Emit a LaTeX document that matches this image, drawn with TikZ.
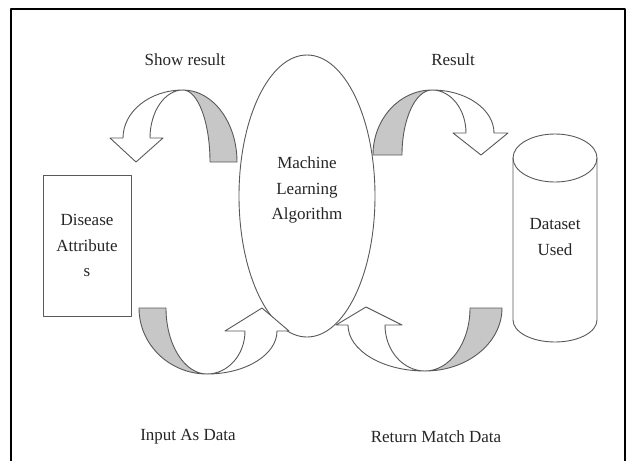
\documentclass[tikz,border=0pt]{standalone}
\usepackage{fontspec}
\setmainfont{Liberation Serif}
\usetikzlibrary{shapes.geometric}
\begin{document}
\begin{tikzpicture}[x=1pt,y=-1pt,line join=round]
\tikzset{
  shp/.style={draw=black!65,line width=0.9pt},
  band/.style={shp,fill=black!22},
  wht/.style={shp,fill=white},
  lbl/.style={font=\fontsize{17}{25.5}\selectfont,text=black!85,inner sep=0pt,align=center},
}
\useasboundingbox (0,0) rectangle (630,461);
\fill[white] (0,0) rectangle (630,461);
\draw[line width=2pt] (11,461) -- (11,9) -- (625,9) -- (625,461);

% main shapes
\node[shp,rectangle,minimum width=88pt,minimum height=141pt,inner sep=0pt,lbl] (attr) at (87,245.5) {Disease\\Attribute\\s};
\node[shp,ellipse,minimum width=136pt,minimum height=282pt,inner sep=0pt] (ml) at (307,196) {};
\node[lbl] (mltext) at (307,190) {Machine\\Learning\\Algorithm};

% cylinder
\draw[shp] (513,158) -- (513,320) arc[start angle=180,end angle=0,x radius=42,y radius=22] -- (597,158);
\draw[shp] (555,158) ellipse [x radius=42,y radius=24];
\node[lbl] (ds) at (555,237) {Dataset\\Used};

% top-left arrow (Show result)
\draw[band] (210,162) arc[start angle=0,end angle=-90,x radius=27,y radius=72]
  arc[start angle=-90,end angle=0,x radius=54,y radius=72] -- cycle;
\draw[wht] (150,138) arc[start angle=180,end angle=270,x radius=33,y radius=48]
  arc[start angle=270,end angle=180,x radius=60,y radius=48]
  -- (110,138) -- (136,162) -- (163,138) -- cycle;

% top-right arrow (Result)
\draw[band] (402,155) arc[start angle=180,end angle=270,x radius=30,y radius=65]
  arc[start angle=270,end angle=180,x radius=59,y radius=65] -- cycle;
\draw[wht] (466,133) arc[start angle=0,end angle=-90,x radius=34,y radius=43]
  arc[start angle=-90,end angle=0,x radius=62,y radius=43]
  -- (508,133) -- (481,155) -- (453,133) -- cycle;

% bottom-left arrow (Input As Data)
\draw[band] (139,308) arc[start angle=180,end angle=90,x radius=68,y radius=66]
  arc[start angle=90,end angle=180,x radius=41,y radius=66] -- cycle;
\draw[wht] (207,374) arc[start angle=90,end angle=0,x radius=70,y radius=43]
  -- (289,331) -- (262,308) -- (225,331) -- (245,331)
  arc[start angle=0,end angle=90,x radius=38,y radius=43] -- cycle;

% bottom-right arrow (Return Match Data)
\draw[band] (502,308) arc[start angle=0,end angle=90,x radius=77,y radius=63]
  arc[start angle=90,end angle=0,x radius=45,y radius=63] -- cycle;
\draw[wht] (425,371) arc[start angle=90,end angle=180,x radius=77,y radius=46]
  -- (336,325) -- (366,307) -- (402,325) -- (385,325)
  arc[start angle=180,end angle=90,x radius=40,y radius=46] -- cycle;

% labels
\node[lbl] (showres) at (185,60) {Show result};
\node[lbl] (res) at (453,60) {Result};
\node[lbl] (inp) at (188,437) {Input As Data};
\node[lbl] (ret) at (436,437) {Return Match Data};
\end{tikzpicture}
\end{document}
